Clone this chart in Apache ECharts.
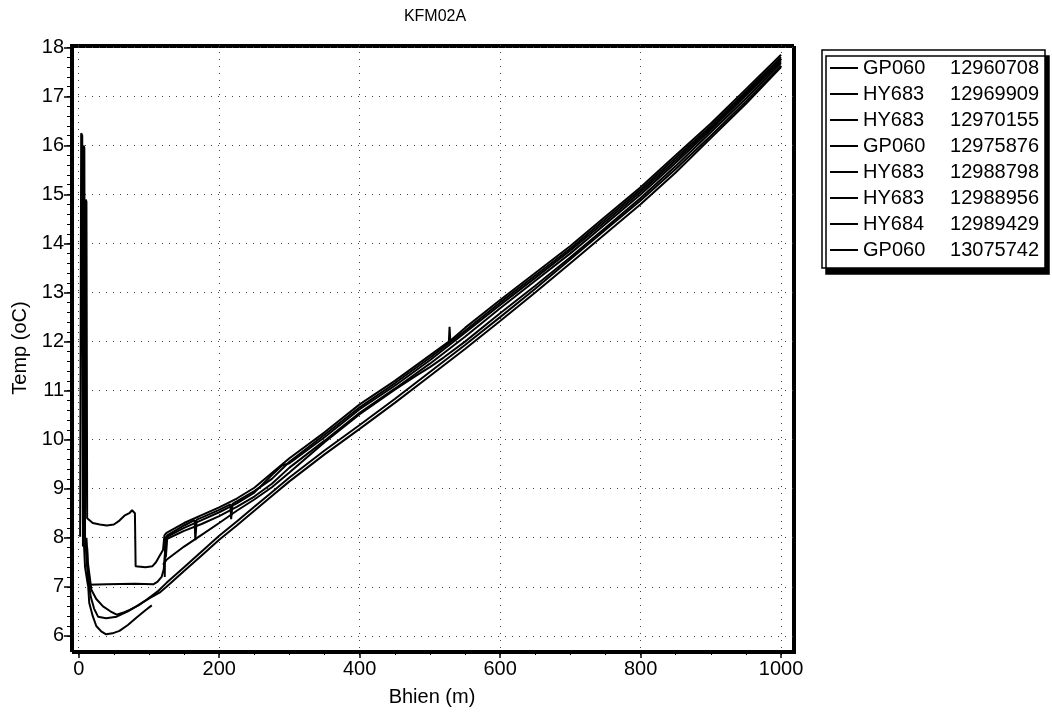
<!DOCTYPE html>
<html>
<head>
<meta charset="utf-8">
<script src="https://cdn.jsdelivr.net/npm/echarts@6/dist/echarts.min.js"></script>
<style>
html, body { margin: 0; padding: 0; background: #fff; }
#chart { width: 1052px; height: 714px; }
</style>
</head>
<body>
<div id="chart"></div>
<script>
// tick labels
var xTicks = [0, 200, 400, 600, 800, 1000];
var yTicks = [6, 7, 8, 9, 10, 11, 12, 13, 14, 15, 16, 17, 18];

// legend names
var seriesNames = [
    'GP060 12960708', 'HY683 12969909', 'HY683 12970155', 'GP060 12975876',
    'HY683 12988798', 'HY683 12988956', 'HY684 12989429', 'GP060 13075742'
];

// [depth m, temp oC]
var gp060_12960708 = [
    [2, 8.02], [3.5, 16.25], [5, 16.2], [6, 8.3], [9, 7.4], [13, 7.04], [40, 7.05], [80, 7.06],
    [106, 7.05], [112, 7.1], [118, 7.2], [121, 7.35], [124, 7.9], [126, 8.05], [150, 8.25],
    [165, 8.36], [166, 7.95], [168, 8.37], [175, 8.41], [200, 8.57], [216, 8.68], [217, 8.38],
    [219, 8.69], [225, 8.74], [250, 8.95], [275, 9.2], [300, 9.55], [350, 10.1], [400, 10.66],
    [450, 11.15], [500, 11.67], [550, 12.22], [600, 12.8], [650, 13.35], [700, 13.9],
    [750, 14.5], [800, 15.1], [850, 15.75], [900, 16.4], [950, 17.1], [1000, 17.8]
];
var hy683_12969909 = [
    [6, 7.82], [7, 16.0], [8, 15.95], [9, 8.0], [12, 7.4], [17, 6.8], [22, 6.55], [27.5, 6.39],
    [39, 6.36], [54, 6.39], [70, 6.5], [82, 6.6], [101, 6.77], [115, 6.88], [125, 7.0],
    [150, 7.32], [175, 7.64], [200, 7.96], [225, 8.25], [250, 8.55], [275, 8.85], [300, 9.15],
    [350, 9.7], [400, 10.22], [450, 10.75], [500, 11.3], [550, 11.85], [600, 12.42],
    [650, 13.0], [700, 13.6], [750, 14.2], [800, 14.8], [850, 15.45], [900, 16.15],
    [950, 16.85], [1000, 17.6]
];
var hy683_12970155 = [
    [9, 8.6], [10, 14.9], [11, 14.85], [12, 8.4], [20, 8.3], [30, 8.27], [40, 8.25], [50, 8.27],
    [58, 8.35], [65, 8.45], [72, 8.5], [76, 8.56], [80, 8.5], [81, 7.42], [95, 7.4], [105, 7.42],
    [110, 7.5], [114, 7.6], [120, 7.75], [122, 8.05], [125, 8.1], [150, 8.3], [175, 8.46],
    [200, 8.62], [225, 8.8], [250, 9.02], [275, 9.32], [300, 9.62], [350, 10.15], [400, 10.72],
    [450, 11.2], [500, 11.72], [527, 12.0], [528, 12.3], [529, 12.02], [550, 12.28],
    [600, 12.85], [650, 13.4], [700, 13.95], [750, 14.55], [800, 15.15], [850, 15.8],
    [900, 16.45], [950, 17.15], [1000, 17.85]
];
var gp060_12975876 = [
    [11, 8.0], [13, 7.5], [18, 6.94], [25, 6.75], [34.6, 6.6], [45, 6.5], [54, 6.43], [65, 6.48],
    [72.6, 6.53], [85, 6.62], [96, 6.73], [112, 6.9], [125, 7.08], [150, 7.4], [175, 7.72],
    [200, 8.04], [225, 8.33], [250, 8.63], [275, 8.93], [300, 9.23], [350, 9.78], [400, 10.3],
    [450, 10.83], [500, 11.38], [550, 11.93], [600, 12.5], [650, 13.08], [700, 13.68],
    [750, 14.28], [800, 14.88], [850, 15.52], [900, 16.2], [950, 16.9], [1000, 17.63]
];
var hy683_12988798 = [
    [12, 7.8], [13.5, 7.0], [15, 6.67], [20, 6.4], [25, 6.2], [32, 6.09], [39, 6.03], [48, 6.05],
    [58, 6.1], [70, 6.22], [82, 6.37], [95, 6.52], [104, 6.62]
];
var hy683_12988956 = [
    [122.5, 7.2], [123, 8.0], [125, 8.04], [150, 8.2], [175, 8.36], [200, 8.52], [225, 8.7],
    [250, 8.92], [275, 9.28], [290, 9.48], [300, 9.52], [350, 10.05], [400, 10.62], [450, 11.1],
    [500, 11.62], [550, 12.18], [600, 12.75], [650, 13.3], [700, 13.86], [750, 14.45],
    [800, 15.05], [850, 15.7], [900, 16.36], [950, 17.06], [1000, 17.76]
];
var hy684_12989429 = [
    [120, 7.45], [125, 7.55], [150, 7.82], [175, 8.06], [200, 8.3], [225, 8.55], [250, 8.78],
    [275, 9.03], [300, 9.33], [350, 9.95], [400, 10.52], [450, 11.02], [480, 11.3], [500, 11.48],
    [520, 11.68], [550, 12.0], [600, 12.58], [650, 13.14], [700, 13.72], [750, 14.32],
    [800, 14.93], [850, 15.58], [900, 16.27], [950, 16.96], [1000, 17.68]
];
var gp060_13075742 = [
    [124, 7.6], [126, 7.98], [150, 8.14], [175, 8.28], [200, 8.44], [225, 8.63], [250, 8.84],
    [275, 9.1], [300, 9.43], [350, 9.98], [400, 10.55], [450, 11.04], [500, 11.55], [550, 12.1],
    [600, 12.68], [650, 13.24], [700, 13.8], [750, 14.4], [800, 15.0], [850, 15.65],
    [900, 16.32], [950, 17.02], [1000, 17.72]
];

var seriesData = [
    gp060_12960708, hy683_12969909, hy683_12970155, gp060_12975876,
    hy683_12988798, hy683_12988956, hy684_12989429, gp060_13075742
];

// minor tick positions
var xMinor = [];
for (var i = 0; i <= 1000; i += 50) xMinor.push(i);
var yMinor = [];
for (var j = 6; j <= 18.001; j += 0.2) yMinor.push(Math.round(j * 10) / 10);

var font = "'Liberation Sans', Arial, sans-serif";
var xMin = -11, xMax = 1017, yMin = 5.69, yMax = 18.05;
var chart = echarts.init(document.getElementById('chart'));

var series = [];
for (var k = 0; k < seriesNames.length; k++) {
    series.push({
        name: seriesNames[k],
        type: 'line',
        data: seriesData[k],
        symbol: 'none',
        smooth: false,
        animation: false,
        lineStyle: { color: '#000', width: 2 },
        itemStyle: { color: '#000' }
    });
}

var box = { left: 71, right: 259, top: 45, bottom: 63 };

var option = {
    backgroundColor: '#fff',
    textStyle: { fontFamily: font },
    title: {
        text: 'KFM02A',
        left: 430,
        textAlign: 'center',
        top: 4,
        textStyle: { fontSize: 16, fontWeight: 'normal', color: '#000', fontFamily: font }
    },
    grid: [{
        left: box.left, right: box.right, top: box.top, bottom: box.bottom,
        show: true,
        backgroundColor: '#fff',
        borderColor: '#000',
        borderWidth: 2,
        shadowColor: '#000',
        shadowOffsetX: 2,
        shadowOffsetY: 2,
        shadowBlur: 0
    }, {
        // same box, only carries the minor ticks
        left: box.left, right: box.right, top: box.top, bottom: box.bottom,
        show: false
    }],
    legend: {
        orient: 'vertical',
        left: 822,
        top: 50,
        padding: [8, 6, 8, 8],
        itemGap: 6,
        itemWidth: 28,
        itemHeight: 2,
        icon: 'rect',
        backgroundColor: '#fff',
        borderColor: '#000',
        borderWidth: 1.5,
        shadowColor: '#000',
        shadowOffsetX: 4,
        shadowOffsetY: 6,
        shadowBlur: 0,
        selectedMode: false,
        data: seriesNames,
        formatter: function (name) {
            var p = name.split(' ');
            return '{a|' + p[0] + '}{b|' + p[1] + '}';
        },
        textStyle: {
            color: '#000',
            fontSize: 20,
            fontFamily: font,
            rich: {
                a: { width: 82, fontSize: 20, lineHeight: 20, fontFamily: font },
                b: { width: 94, align: 'right', fontSize: 20, lineHeight: 20, fontFamily: font }
            }
        }
    },
    xAxis: [{
        type: 'value',
        gridIndex: 0,
        min: xMin,
        max: xMax,
        name: 'Bhien (m)',
        nameLocation: 'middle',
        nameGap: 36,
        nameTextStyle: { fontSize: 20, color: '#000', fontFamily: font },
        axisLine: { show: true, onZero: false, lineStyle: { color: '#000', width: 2 } },
        axisTick: { show: true, inside: false, customValues: xTicks, length: 7, lineStyle: { color: '#000', width: 1.5 } },
        axisLabel: {
            customValues: xTicks, fontSize: 20, color: '#000', margin: 8, fontFamily: font,
            formatter: function (v) { return String(v); }
        },
        splitLine: { show: true, lineStyle: { color: '#444', type: [1, 6], width: 1 } }
    }, {
        type: 'value',
        gridIndex: 1,
        min: xMin,
        max: xMax,
        position: 'bottom',
        axisLine: { show: true, onZero: false, lineStyle: { color: '#000', width: 2 } },
        axisTick: { show: true, inside: false, customValues: xMinor, length: 4, lineStyle: { color: '#000', width: 1 } },
        axisLabel: { show: true, color: 'rgba(0,0,0,0)', formatter: function () { return ''; } },
        splitLine: { show: false }
    }],
    yAxis: [{
        type: 'value',
        gridIndex: 0,
        min: yMin,
        max: yMax,
        name: 'Temp (oC)',
        nameLocation: 'middle',
        nameGap: 38,
        nameRotate: 90,
        nameTextStyle: { fontSize: 20, color: '#000', fontFamily: font },
        axisLine: { show: true, onZero: false, lineStyle: { color: '#000', width: 2 } },
        axisTick: { show: true, inside: false, customValues: yTicks, length: 7, lineStyle: { color: '#000', width: 1.5 } },
        axisLabel: { customValues: yTicks, fontSize: 20, color: '#000', margin: 7, fontFamily: font },
        splitLine: { show: true, lineStyle: { color: '#444', type: [1, 6], width: 1 } }
    }, {
        type: 'value',
        gridIndex: 1,
        min: yMin,
        max: yMax,
        position: 'left',
        axisLine: { show: true, onZero: false, lineStyle: { color: '#000', width: 2 } },
        axisTick: { show: true, inside: false, customValues: yMinor, length: 4, lineStyle: { color: '#000', width: 1 } },
        axisLabel: { show: true, color: 'rgba(0,0,0,0)', formatter: function () { return ''; } },
        splitLine: { show: false }
    }],
    series: series
};

chart.setOption(option);
</script>
</body>
</html>
